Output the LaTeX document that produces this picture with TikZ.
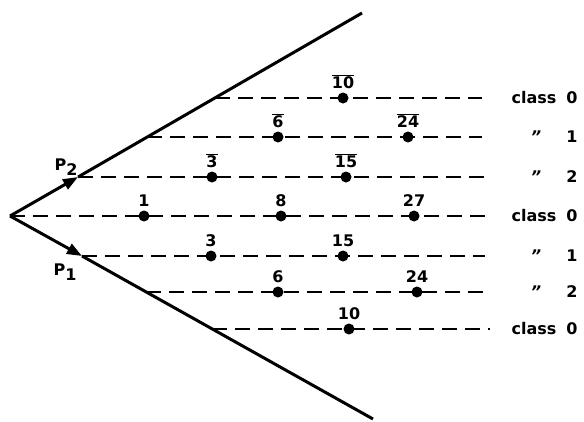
\documentclass[tikz,border=0pt]{standalone}
\usepackage{fontspec}
\setmainfont{DejaVu Sans}
\usetikzlibrary{arrows.meta,positioning}

\newcommand{\ob}[1]{$\overline{\mbox{#1}}$}
\newcommand{\ditto}{\raisebox{-0.8ex}{\itshape ''}}

\begin{document}
\begin{tikzpicture}[x=1pt,y=-1pt,
    font=\fontsize{16}{18}\selectfont\bfseries,
    ray/.style={line width=3pt},
    row/.style={line width=2pt, dash pattern=on 15pt off 8pt},
    pt/.style={circle, fill, inner sep=0pt, minimum size=11pt, label distance=0pt},
  ]
    \useasboundingbox (0,0) rectangle (584,421);

    % Rays
    \coordinate (O) at (10,216);
    \coordinate (T) at (362,13);
    \coordinate (B) at (373,419);

    % Rows (start on the rays, end at the right)
    \foreach \n/\y/\xs/\xe in {1/98/215/482, 2/137/147/482, 3/177/78/490,
        4/216/10/487, 5/256/82/485, 6/292/146/490, 7/329/212/490}{
      \coordinate (s\n) at (\xs,\y);
      \coordinate (e\n) at (\xe,\y);
      \draw[row] (s\n) -- (e\n);
    }

    \draw[ray, -{Triangle[length=15pt,width=11pt]}] (O) -- (s3);
    \draw[ray] (s3) -- (T);
    \draw[ray, -{Triangle[length=15pt,width=11pt]}] (O) -- (s5);
    \draw[ray] (s5) -- (B);

    \node (P2) at (66,167) {P\raisebox{-0.5ex}{2}};
    \node (P1) at (65,272) {P\raisebox{-0.5ex}{1}};

    % Points
    \node[pt, label=above:\ob{10}] (r1a) at (343,98) {};
    \node[pt, label=above:\ob{6}]  (r2a) at (278,137) {};
    \node[pt, label=above:\ob{24}] (r2b) at (408,137) {};
    \node[pt, label=above:\ob{3}]  (r3a) at (212,177) {};
    \node[pt, label=above:\ob{15}] (r3b) at (346,177) {};
    \node[pt, label=above:1]  (r4a) at (144,216) {};
    \node[pt, label=above:8]  (r4b) at (281,216) {};
    \node[pt, label=above:27] (r4c) at (414,216) {};
    \node[pt, label=above:3]  (r5a) at (211,256) {};
    \node[pt, label=above:15] (r5b) at (343,256) {};
    \node[pt, label=above:6]  (r6a) at (278,292) {};
    \node[pt, label=above:24] (r6b) at (417,292) {};
    \node[pt, label=above:10] (r7a) at (349,329) {};

    % Classes
    \node (c1) at (534,98)  {class};  \node (k1) at (572,98)  {0};
    \node (c2) at (536,137) {\ditto}; \node (k2) at (572,137) {1};
    \node (c3) at (536,177) {\ditto}; \node (k3) at (572,177) {2};
    \node (c4) at (534,216) {class};  \node (k4) at (572,216) {0};
    \node (c5) at (536,256) {\ditto}; \node (k5) at (572,256) {1};
    \node (c6) at (536,292) {\ditto}; \node (k6) at (572,292) {2};
    \node (c7) at (534,329) {class};  \node (k7) at (572,329) {0};
\end{tikzpicture}
\end{document}
